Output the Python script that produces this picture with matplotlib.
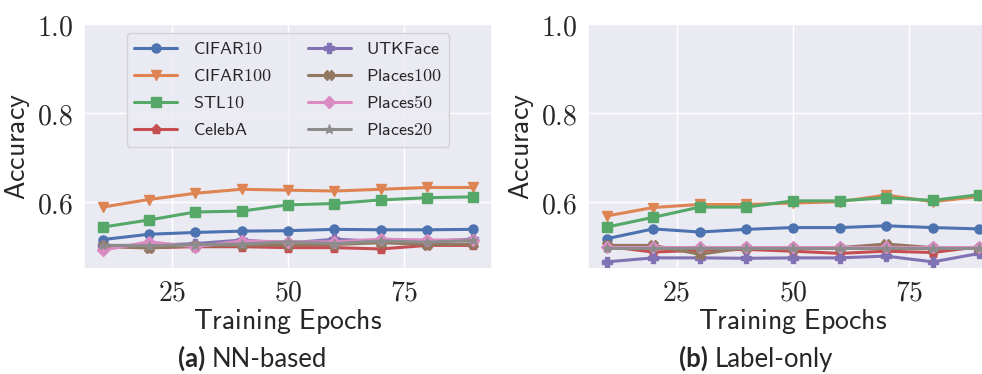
import numpy as np
import matplotlib
matplotlib.use("Agg")
import matplotlib.pyplot as plt
from matplotlib.ticker import StrMethodFormatter
import seaborn as sns

sns.set_theme(style="darkgrid")
plt.rcParams['mathtext.fontset'] = 'cm'

epochs = [10, 20, 30, 40, 50, 60, 70, 80, 90]
datasets = ['CIFAR10', 'CIFAR100', 'STL10', 'CelebA',
            'UTKFace', 'Places100', 'Places50', 'Places20']
markers = ['o', 'v', 's', 'p', 'P', 'X', 'D', '*']

# (a) NN-based
nn_acc = {
    'CIFAR10':   [0.516, 0.528, 0.532, 0.535, 0.536, 0.539, 0.538, 0.538, 0.539],
    'CIFAR100':  [0.589, 0.606, 0.620, 0.629, 0.627, 0.625, 0.629, 0.633, 0.633],
    'STL10':     [0.544, 0.560, 0.578, 0.580, 0.594, 0.597, 0.605, 0.610, 0.612],
    'CelebA':    [0.501, 0.498, 0.500, 0.500, 0.498, 0.498, 0.495, 0.503, 0.503],
    'UTKFace':   [0.503, 0.503, 0.507, 0.515, 0.508, 0.517, 0.512, 0.512, 0.517],
    'Places100': [0.501, 0.497, 0.502, 0.503, 0.504, 0.505, 0.509, 0.505, 0.506],
    'Places50':  [0.492, 0.511, 0.500, 0.513, 0.511, 0.511, 0.517, 0.515, 0.515],
    'Places20':  [0.503, 0.502, 0.505, 0.506, 0.511, 0.507, 0.513, 0.510, 0.514],
}

# (b) Label-only
label_acc = {
    'CIFAR10':   [0.518, 0.540, 0.533, 0.539, 0.543, 0.543, 0.547, 0.543, 0.540],
    'CIFAR100':  [0.569, 0.588, 0.595, 0.595, 0.598, 0.601, 0.616, 0.601, 0.613],
    'STL10':     [0.544, 0.566, 0.589, 0.589, 0.603, 0.603, 0.610, 0.604, 0.617],
    'CelebA':    [0.501, 0.488, 0.492, 0.494, 0.490, 0.485, 0.490, 0.487, 0.500],
    'UTKFace':   [0.466, 0.475, 0.475, 0.474, 0.475, 0.475, 0.479, 0.466, 0.485],
    'Places100': [0.503, 0.503, 0.483, 0.498, 0.498, 0.498, 0.506, 0.498, 0.498],
    'Places50':  [0.500, 0.500, 0.500, 0.500, 0.500, 0.500, 0.500, 0.500, 0.500],
    'Places20':  [0.497, 0.497, 0.497, 0.497, 0.497, 0.497, 0.497, 0.497, 0.497],
}

colors = sns.color_palette("deep")

fig = plt.figure(figsize=(9.82, 3.74), dpi=100)
ax1 = fig.add_axes([84/982, 105/374, 408/982, 245/374])
ax2 = fig.add_axes([588/982, 105/374, 410/982, 245/374])

for ax, data in [(ax1, nn_acc), (ax2, label_acc)]:
    for i, name in enumerate(datasets):
        ax.plot(epochs, data[name], marker=markers[i], color=colors[i],
                lw=2.2, ms=6.5, label=r'$\mathsf{' + name + '}$')
    ax.set_ylim(0.45, 1.0)
    ax.set_yticks([0.6, 0.8, 1.0])
    ax.set_xticks([25, 50, 75])
    ax.xaxis.set_major_formatter(StrMethodFormatter(r'${x:.0f}$'))
    ax.yaxis.set_major_formatter(StrMethodFormatter(r'${x:.1f}$'))
    ax.tick_params(axis='x', labelsize=20, pad=0.5)
    ax.tick_params(axis='y', labelsize=20, pad=1.5)
    ax.set_xlabel(r'$\mathsf{Training\ Epochs}$', fontsize=20, labelpad=1)
    ax.set_ylabel(r'$\mathsf{Accuracy}$', fontsize=20, labelpad=4)

ax1.legend(loc='upper center', ncol=2, fontsize=13, handlelength=2.4,
           handletextpad=0.85)

cap_y = 7/374
fig.text(205/982, cap_y, '(a)', ha='right', va='baseline', fontsize=18.5,
         fontweight='bold', family='Lato')
fig.text(212/982, cap_y, 'NN-based', ha='left', va='baseline', fontsize=18.5,
         family='Lato')
fig.text(708/982, cap_y, '(b)', ha='right', va='baseline', fontsize=18.5,
         fontweight='bold', family='Lato')
fig.text(715/982, cap_y, 'Label-only', ha='left', va='baseline', fontsize=18.5,
         family='Lato')

fig.savefig('out.png', dpi=100)
